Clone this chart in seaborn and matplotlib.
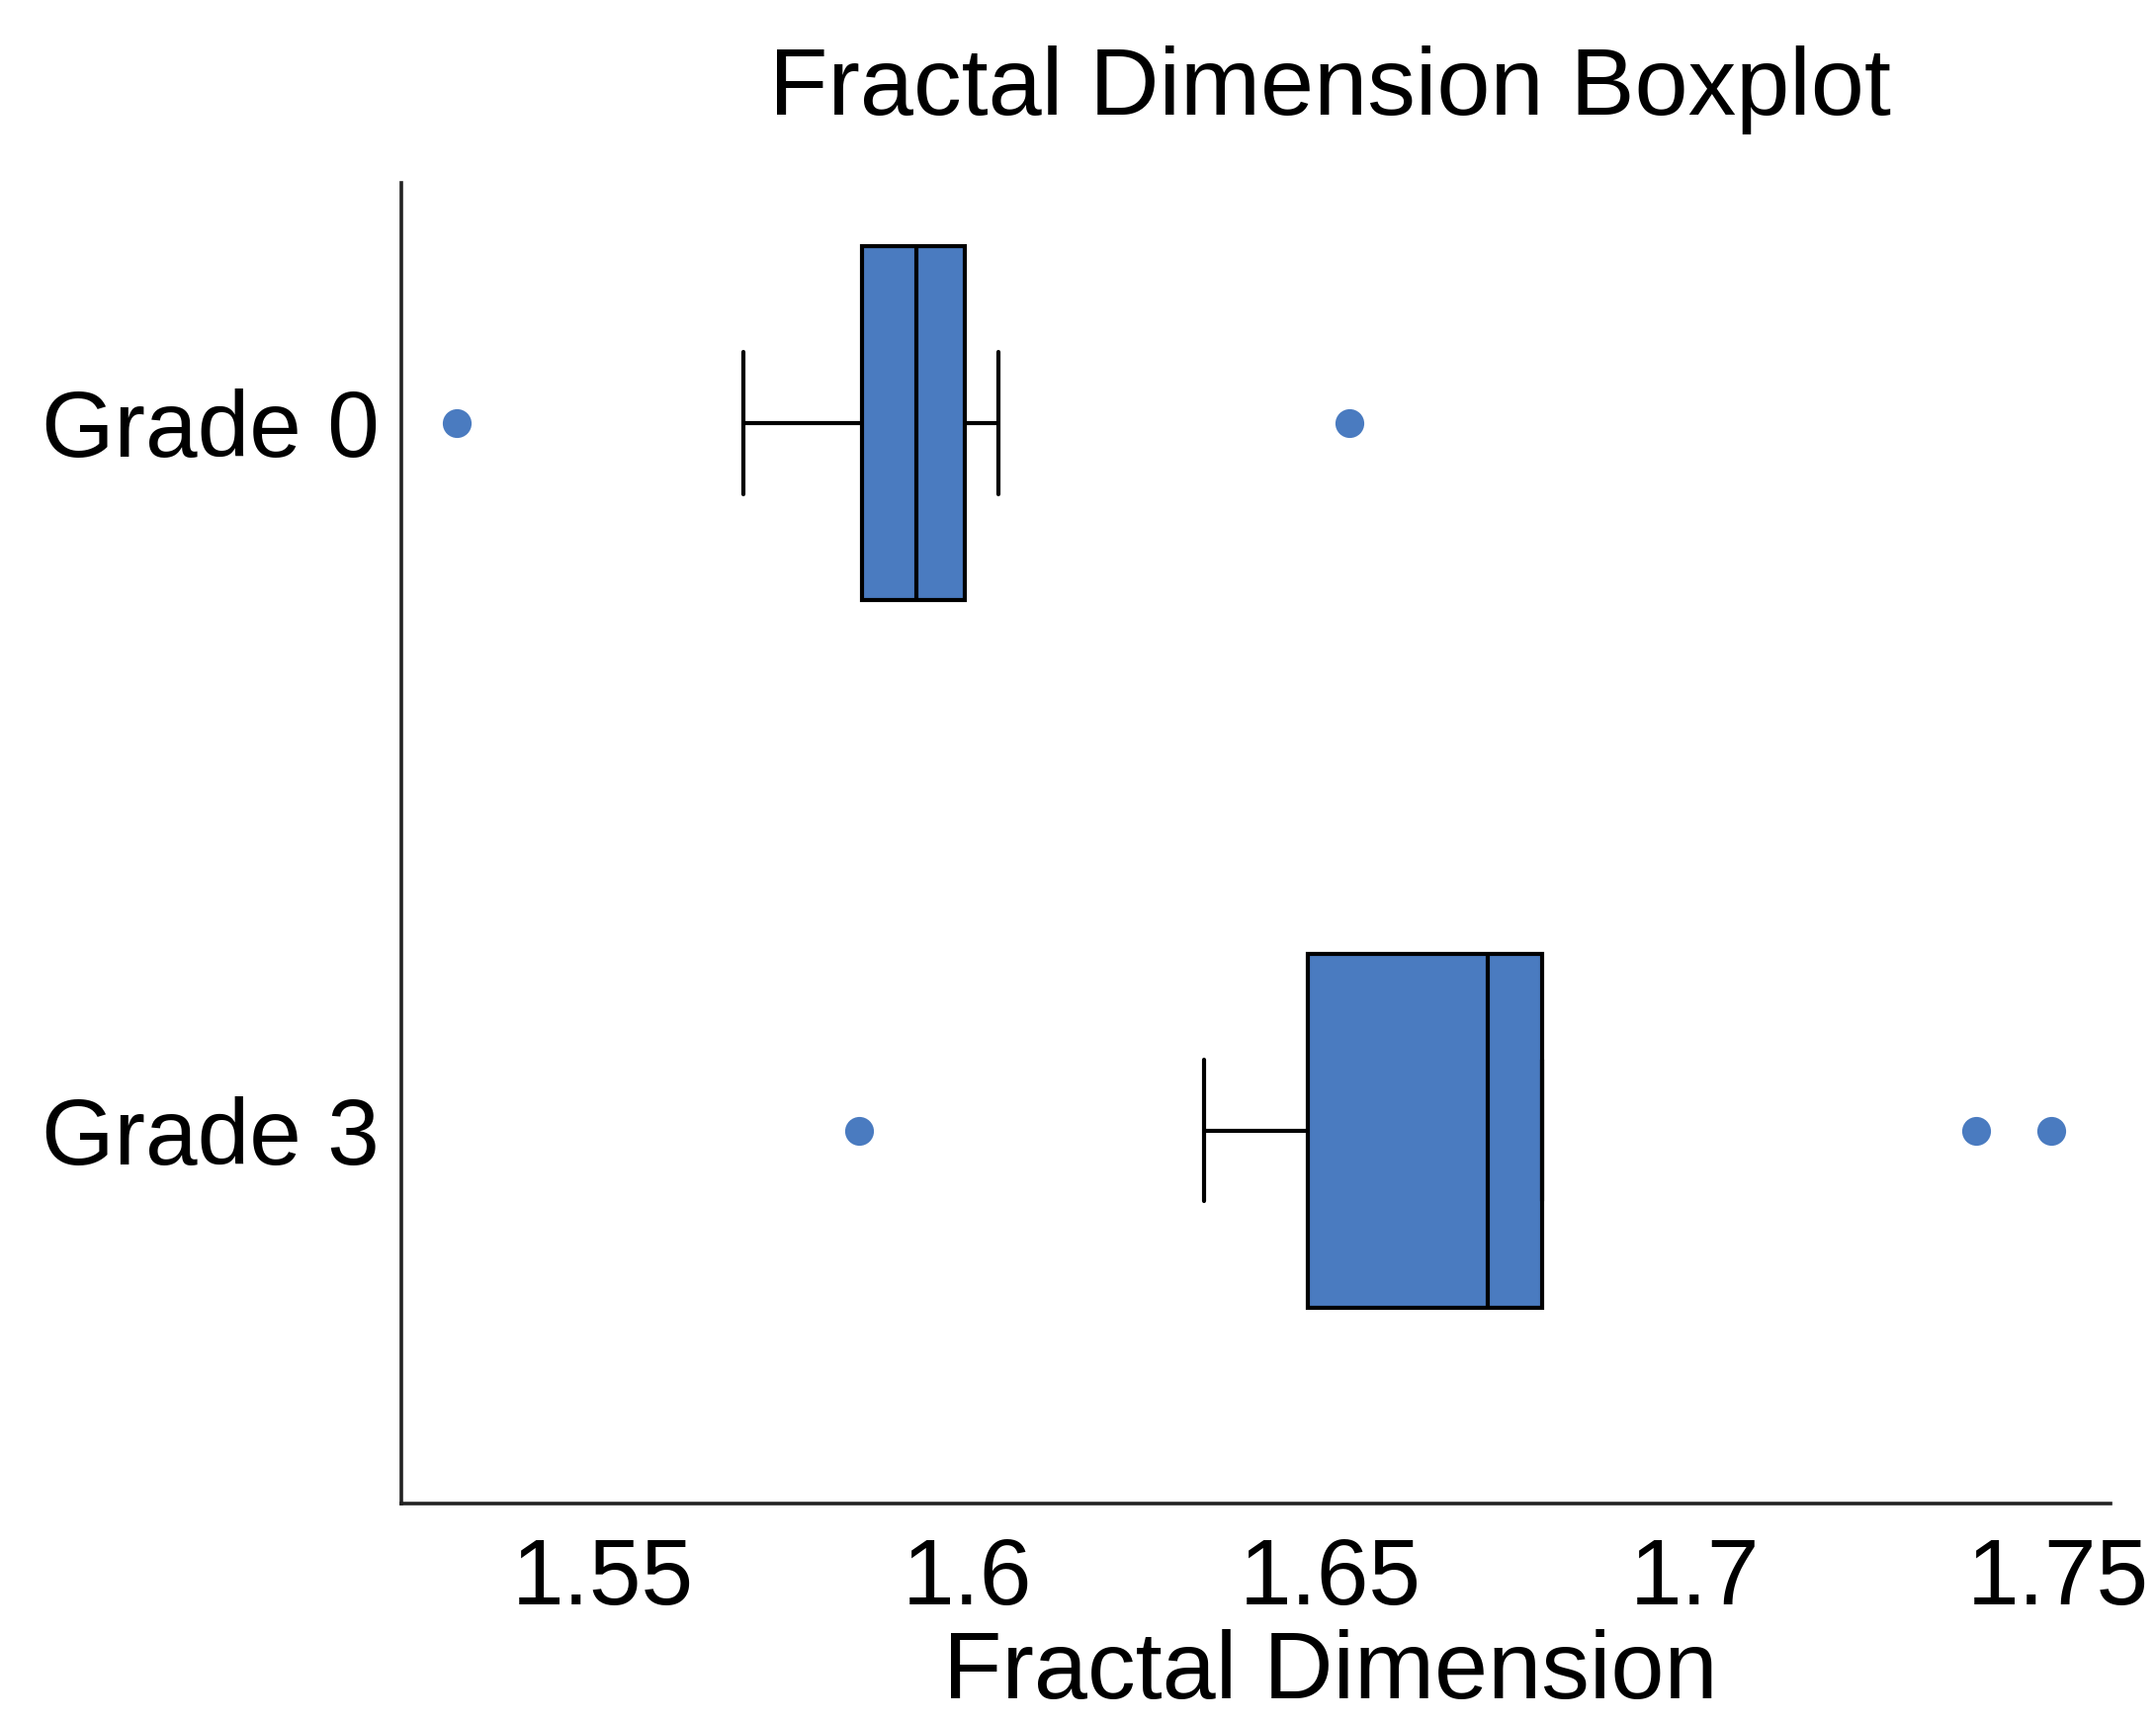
import numpy as np
import pandas as pd
import matplotlib.pyplot as plt
import seaborn as sns

# data (9 samples per grade)
grades = ["Grade 0", "Grade 3"]
grade0_fd = [1.5298, 1.5693, 1.5855, 1.5890, 1.5931, 1.5960, 1.5997, 1.6043, 1.6525]
grade3_fd = [1.5852, 1.6326, 1.6468, 1.6600, 1.6716, 1.6750, 1.6791, 1.7387, 1.7490]
x_ticks = [1.55, 1.6, 1.65, 1.7, 1.75]
x_tick_labels = ["1.55", "1.6", "1.65", "1.7", "1.75"]

df = pd.DataFrame({
    "grade": [grades[0]] * len(grade0_fd) + [grades[1]] * len(grade3_fd),
    "fd": grade0_fd + grade3_fd,
})

sns.set_style("white")
plt.rcParams["font.family"] = ["Liberation Sans", "DejaVu Sans"]
plt.rcParams["text.color"] = "black"
plt.rcParams["xtick.color"] = "black"
plt.rcParams["ytick.color"] = "black"

BLUE = "#4A7BC0"

fig = plt.figure(figsize=(21.81, 17.42), dpi=100)
ax = fig.add_axes([0.186, 0.127, 0.793, 0.767])

sns.boxplot(data=df, x="fd", y="grade", order=grades, orient="h",
            color=BLUE, saturation=1, width=0.5, linecolor="black",
            linewidth=3, capwidths=0.2,
            flierprops=dict(marker="o", markerfacecolor=BLUE,
                            markeredgecolor="none", markersize=21),
            ax=ax)

ax.set_xlim(1.5222, 1.7572)
ax.set_ylim(1.527, -0.34)
ax.set_xticks(x_ticks)
ax.set_xticklabels(x_tick_labels)
ax.set_xlabel("")
ax.set_ylabel("")

for s in ["top", "right"]:
    ax.spines[s].set_visible(False)
for s in ["left", "bottom"]:
    ax.spines[s].set_color("#222222")
    ax.spines[s].set_linewidth(2.6)

ax.tick_params(axis="x", direction="inout", length=12, width=1.8,
               color="#222222", labelsize=68, pad=18)
ax.tick_params(axis="y", direction="inout", length=12, width=1.8,
               color="#222222", labelsize=68, pad=10)

fig.text(0.617, 0.948, "Fractal Dimension Boxplot", ha="center", va="center",
         fontsize=70)
fig.text(0.617, 0.014, "Fractal Dimension", ha="center", va="baseline",
         fontsize=70)

fig.savefig("out.png", dpi=100)
